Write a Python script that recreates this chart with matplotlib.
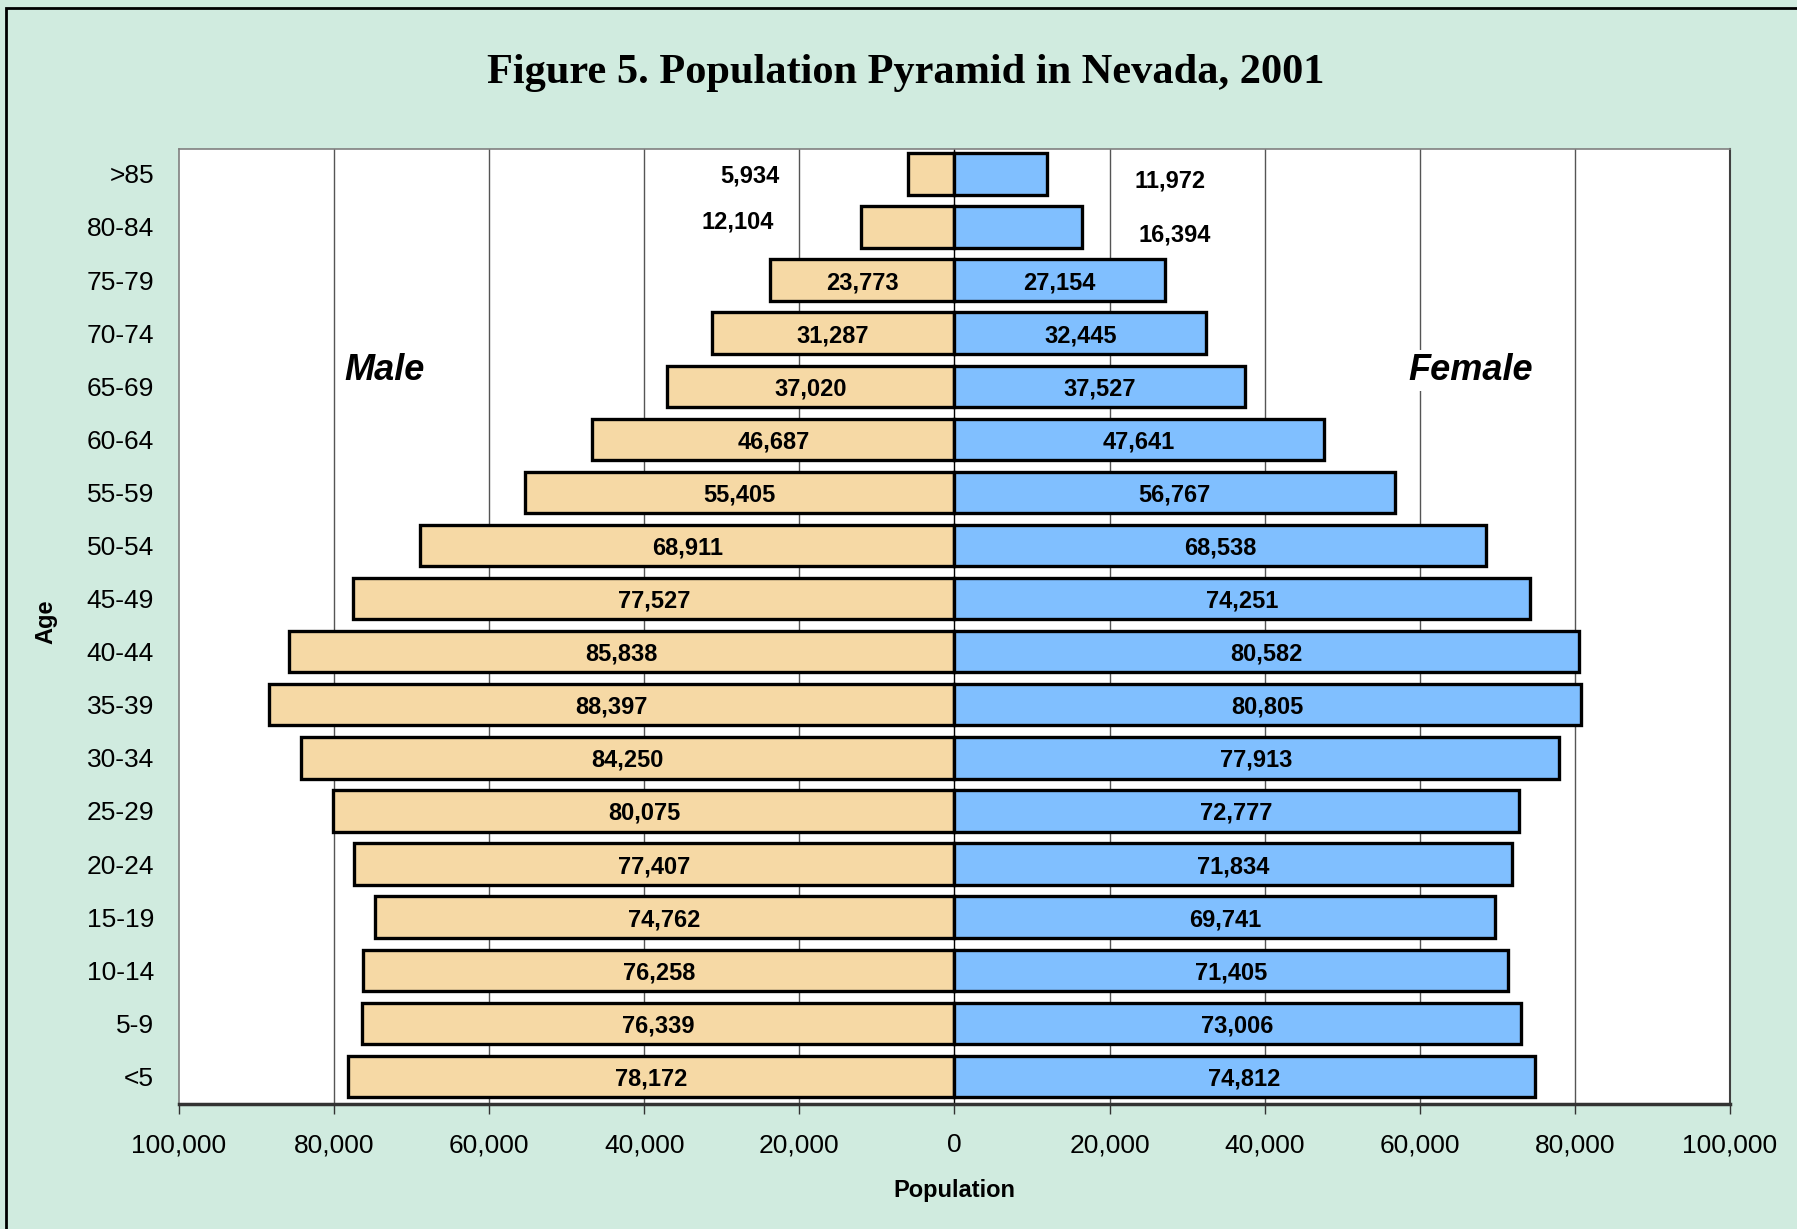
#!/usr/bin/env python3

import numpy as np
import matplotlib.pyplot as plt
from matplotlib.patches import Rectangle
from matplotlib.ticker import FuncFormatter

# age groups, bottom to top
ages = ["<5", "5-9", "10-14", "15-19", "20-24", "25-29", "30-34", "35-39",
        "40-44", "45-49", "50-54", "55-59", "60-64", "65-69", "70-74",
        "75-79", "80-84", ">85"]
male = [78172, 76339, 76258, 74762, 77407, 80075, 84250, 88397,
        85838, 77527, 68911, 55405, 46687, 37020, 31287,
        23773, 12104, 5934]
female = [74812, 73006, 71405, 69741, 71834, 72777, 77913, 80805,
          80582, 74251, 68538, 56767, 47641, 37527, 32445,
          27154, 16394, 11972]
xticks = [-100000, -80000, -60000, -40000, -20000, 0,
          20000, 40000, 60000, 80000, 100000]

BG = "#d0ebdf"
MALE_C = "#f6d9a5"
FEMALE_C = "#80bfff"


def main():
    fig = plt.figure(figsize=(17.97, 12.29), dpi=100, facecolor=BG)
    ax = fig.add_axes([0.0996, 0.1017, 0.8631, 0.7771])
    ax.set_facecolor("white")

    y = np.arange(len(ages))
    h = 0.78

    # grid first, bars on top
    for xv in xticks[1:-1]:
        ax.axvline(xv, color="#555555" if xv else "black", lw=1.0, zorder=0)

    ax.barh(y, -np.asarray(male), height=h, color=MALE_C,
            edgecolor="black", linewidth=2.4, zorder=2)
    ax.barh(y, female, height=h, color=FEMALE_C,
            edgecolor="black", linewidth=2.4, zorder=2)

    # value labels: small groups at top sit outside their bars
    lab = dict(ha="center", va="center_baseline", fontsize=17,
               fontweight="bold", family="Liberation Sans", zorder=3)
    outside_m = {16: (-27900, 0.15), 17: (-26440, 0.0)}
    outside_f = {16: (28360, -0.10), 17: (27770, -0.09)}
    for i in range(len(ages)):
        if i in outside_m:
            xm, dy = outside_m[i]
            ax.text(xm, y[i] + dy, f"{male[i]:,}", **lab)
        else:
            ax.text(-male[i] / 2, y[i], f"{male[i]:,}", **lab)
        if i in outside_f:
            xf, dy = outside_f[i]
            ax.text(xf, y[i] + dy, f"{female[i]:,}", **lab)
        else:
            ax.text(female[i] / 2, y[i], f"{female[i]:,}", **lab)

    ax.text(-73500, 13.3, "Male", ha="center", va="center", fontsize=26,
            fontweight="bold", style="italic", family="Liberation Sans",
            bbox=dict(facecolor="white", edgecolor="none", pad=2), zorder=3)
    ax.text(66600, 13.3, "Female", ha="center", va="center", fontsize=26,
            fontweight="bold", style="italic", family="Liberation Sans",
            bbox=dict(facecolor="white", edgecolor="none", pad=2), zorder=3)

    ax.set_xlim(-100000, 100000)
    ax.set_ylim(-0.52, 17.47)
    ax.set_xticks(xticks)
    ax.xaxis.set_major_formatter(FuncFormatter(lambda v, p: f"{abs(int(v)):,}"))
    ax.set_yticks(y)
    ax.set_yticklabels(ages)
    ax.tick_params(axis="y", length=0, pad=18, labelsize=19)
    ax.tick_params(axis="x", length=7, width=1, pad=14, labelsize=19,
                   direction="out", color="#333333")
    for t in ax.get_xticklabels() + ax.get_yticklabels():
        t.set_family("Liberation Sans")

    for s in ["top", "left"]:
        ax.spines[s].set_color("#808080")
        ax.spines[s].set_linewidth(1.2)
    ax.spines["right"].set_color("#404040")
    ax.spines["right"].set_linewidth(1.5)
    ax.spines["bottom"].set_color("#333333")
    ax.spines["bottom"].set_linewidth(2.5)

    fig.text(0.5042, 0.9405, "Figure 5. Population Pyramid in Nevada, 2001",
             ha="center", va="center", fontsize=30.5, fontweight="bold",
             family="Liberation Serif")
    fig.text(0.0256, 0.494, "Age", rotation=90, ha="center", va="center",
             fontsize=17, fontweight="bold", family="Liberation Sans")
    fig.text(0.531, 0.0315, "Population", ha="center", va="center",
             fontsize=17, fontweight="bold", family="Liberation Sans")

    # outer frame, runs off the right and bottom edges
    fig.patches.append(Rectangle((6 / 1797, -0.05), 1.1, 1.05 - 8 / 1229,
                                 transform=fig.transFigure, fill=False,
                                 edgecolor="black", linewidth=2.0))

    fig.savefig("out.png", dpi=100, facecolor=BG)


if __name__ == "__main__":
    main()
